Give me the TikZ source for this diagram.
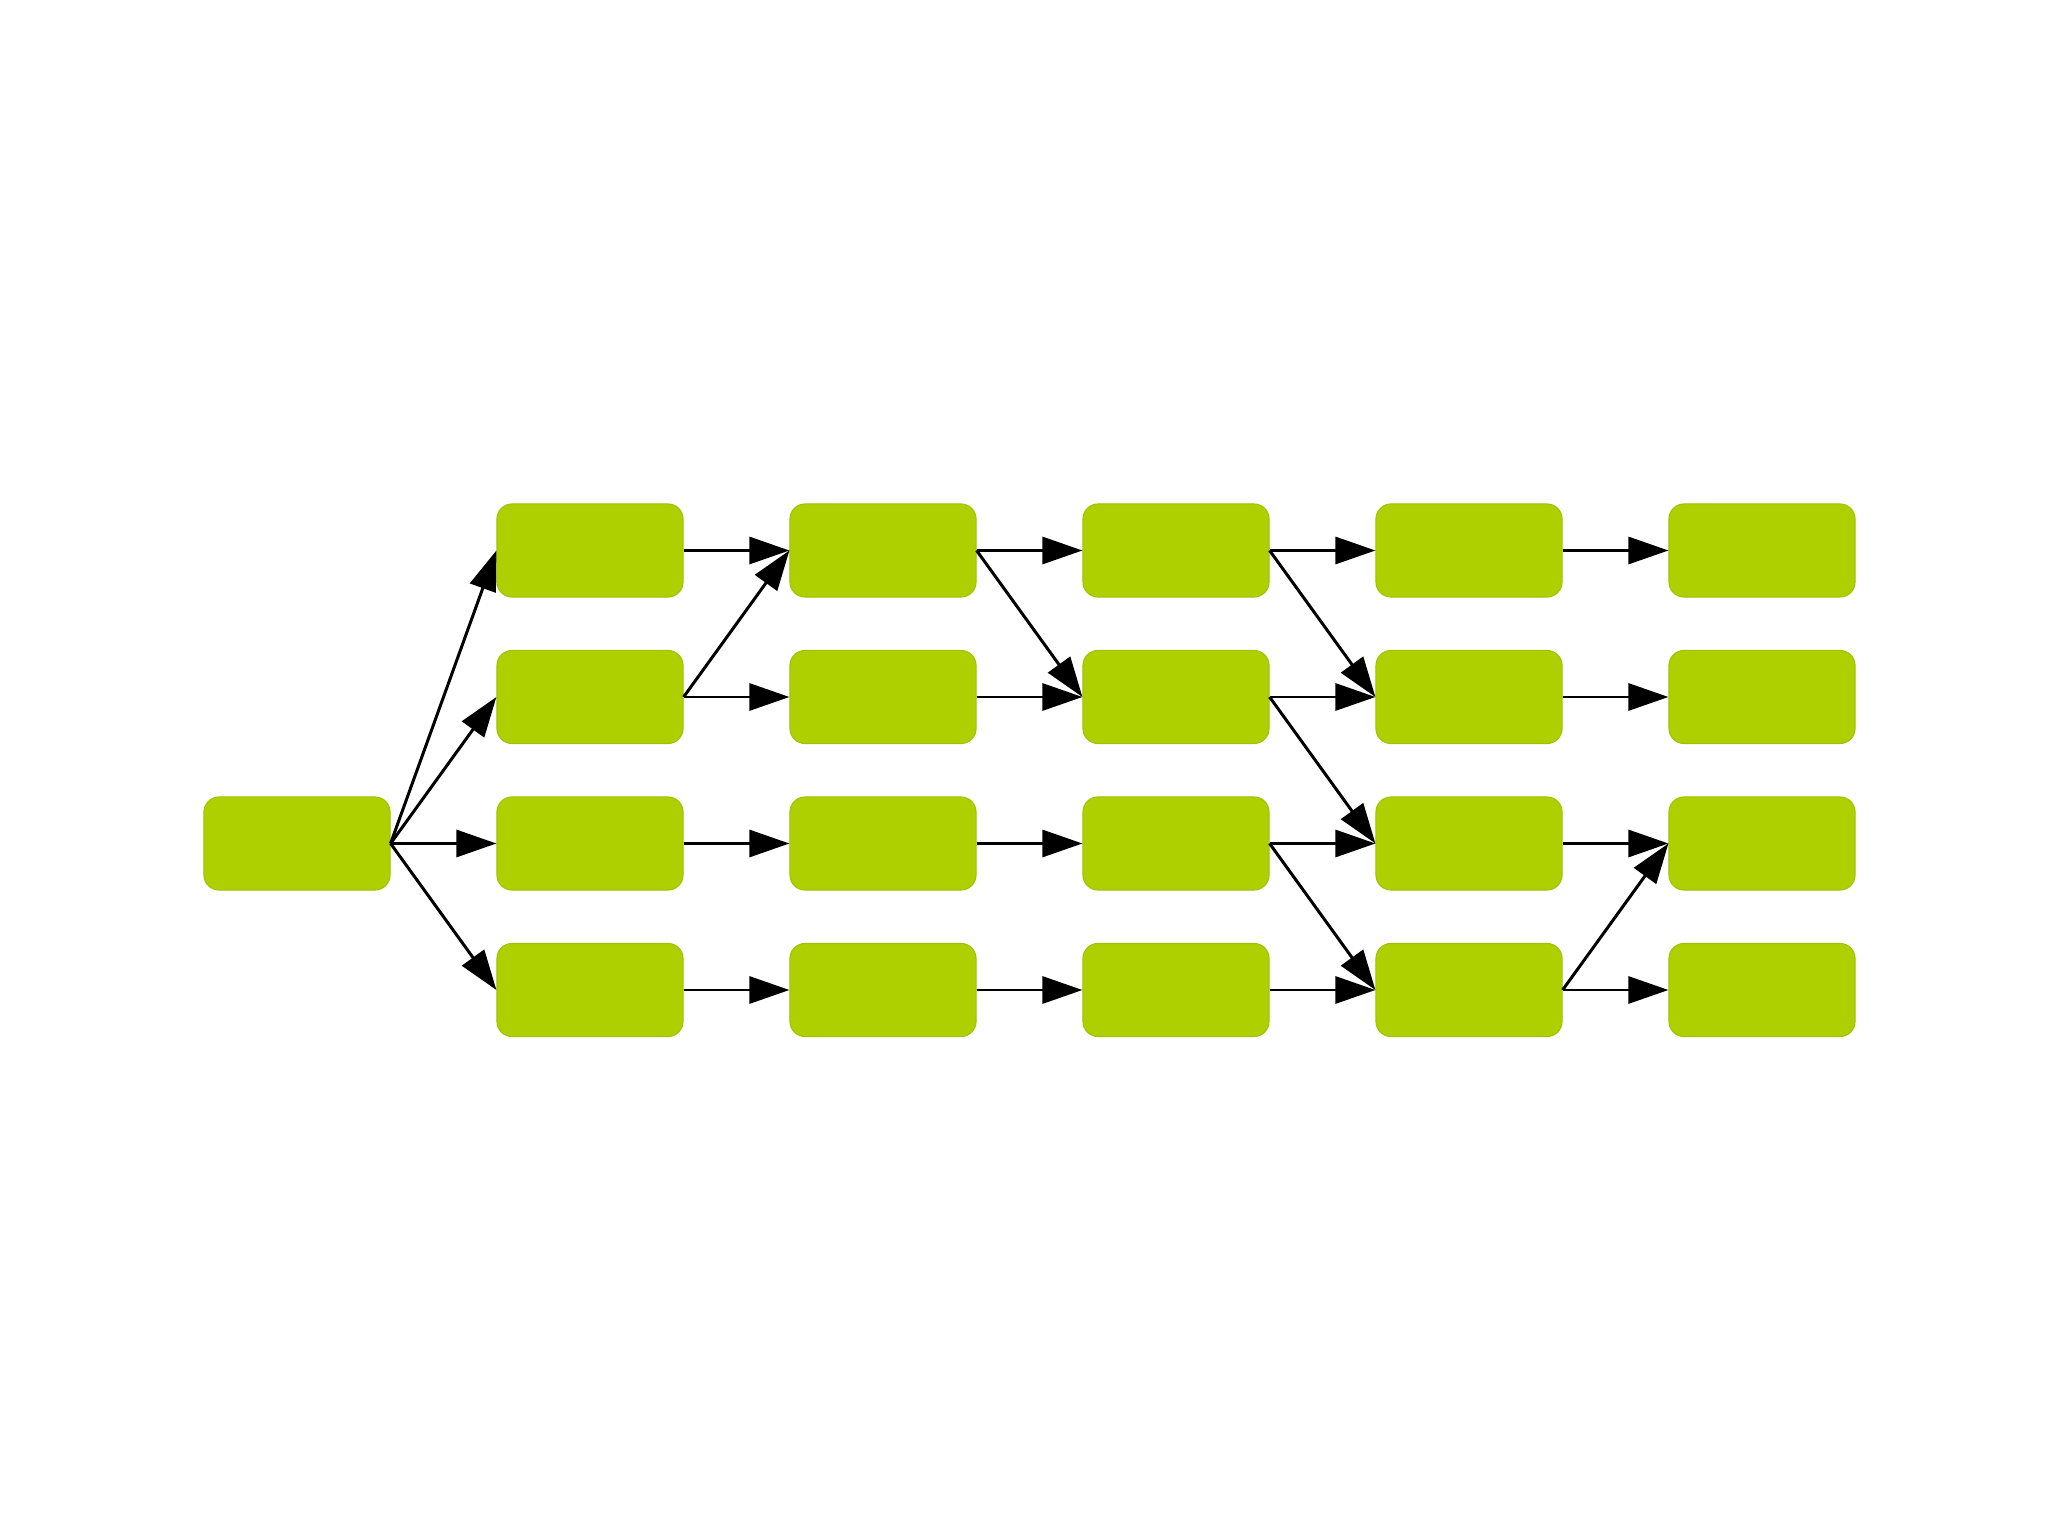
\documentclass[tikz,border=0pt]{standalone}
\usetikzlibrary{arrows.meta}
\definecolor{boxgreen}{RGB}{174,207,0}
\definecolor{boxedge}{RGB}{160,195,0}
\begin{document}
\begin{tikzpicture}[x=0.01cm,y=-0.01cm,
  gbox/.style={rectangle,rounded corners=0.15cm,fill=boxgreen,draw=boxedge,line width=0.3pt,minimum width=1.86cm,minimum height=0.93cm,inner sep=0pt},
  link/.style={line width=0.85pt,-{Triangle[length=0.4cm,width=0.27cm]}}]
\useasboundingbox (0,0) rectangle (2048,1537);
\node[gbox] (n0) at (297,843.5) {};
\foreach \c/\x in {1/590,2/883,3/1176,4/1469,5/1762}{
  \foreach \r/\y in {0/550.5,1/697,2/843.5,3/990}{
    \node[gbox] (n\c\r) at (\x,\y) {};
  }
}
\foreach \t in {0,1,2,3}{\draw[link] (n0.east) -- (n1\t.west);}
\foreach \a/\b in {10/20,11/20,11/21,12/22,13/23,
                   20/30,20/31,21/31,22/32,23/33,
                   30/40,30/41,31/41,31/42,32/42,32/43,33/43,
                   40/50,41/51,42/52,43/52,43/53}{
  \draw[link] (n\a.east) -- (n\b.west);
}
\end{tikzpicture}
\end{document}
